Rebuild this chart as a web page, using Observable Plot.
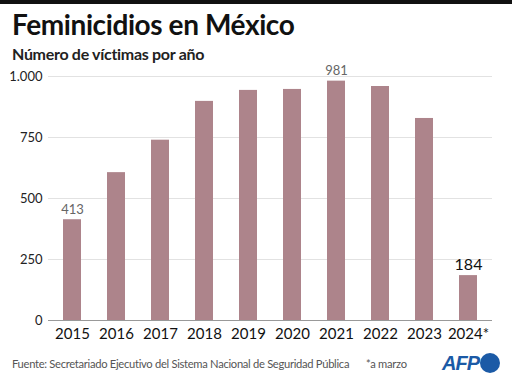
<!DOCTYPE html>
<html><head><meta charset="utf-8">
<script src="https://cdn.jsdelivr.net/npm/d3@7"></script>
<script src="https://cdn.jsdelivr.net/npm/@observablehq/plot@0.6"></script>
<style>
body{margin:0;background:#fff;font-family:Lato,"Noto Sans",sans-serif;width:512px;height:381px;overflow:hidden;position:relative}
#bar{height:4px;background:#111;}
#title{position:absolute;left:12px;top:7px;font-size:28px;font-weight:700;color:#111;letter-spacing:-0.4px}
#sub{position:absolute;left:12px;top:44px;font-size:16px;font-weight:700;color:#222;letter-spacing:-0.3px}
#chart{position:absolute;left:0;top:62px}
#foot{position:absolute;left:12px;top:357px;font-size:11.2px;color:#555;font-family:Lato,sans-serif;letter-spacing:-0.3px;white-space:nowrap}
#note{position:absolute;left:366px;top:357px;font-size:11.2px;color:#555;font-family:Lato,sans-serif;letter-spacing:-0.3px}
#logo{position:absolute;left:440px;top:350px}
</style></head><body>
<div id="bar"></div>
<div id="title">Feminicidios en México</div>
<div id="sub">Número de víctimas por año</div>
<div id="chart"></div>
<div id="foot">Fuente: Secretariado Ejecutivo del Sistema Nacional de Seguridad Pública</div>
<div id="note">*a marzo</div>
<svg id="logo" width="66" height="26"><text x="2" y="20" font-family="Liberation Sans,Arial" font-weight="700" font-style="italic" font-size="20" fill="#1b5aa6" letter-spacing="-1">AFP</text><circle cx="50" cy="13" r="10" fill="#1b5aa6"/></svg>
<script>
const years = ["2015","2016","2017","2018","2019","2020","2021","2022","2023","2024*"];
const victims = [413,606,739,898,943,947,981,959,828,184];
const yTicks = [0,250,500,750,1000];
const labeledGray = ["2015","2021"];
const labeledBlack = ["2024*"];

const data = years.map((y,i)=>({year:y, value:victims[i]}));
const fmt = d3.formatLocale({thousands:".",grouping:[3],decimal:","}).format(",");

const chart = Plot.plot({
  width:512, height:285,
  marginLeft:48, marginRight:20, marginTop:14, marginBottom:27,
  style:{fontFamily:"Lato, 'Noto Sans', sans-serif", background:"transparent"},
  x:{domain:years, paddingInner:0.6, paddingOuter:0.3, label:null},
  y:{domain:[0,1000], ticks:yTicks, label:null},
  marks:[
    Plot.ruleY(yTicks.filter(d=>d>0),{stroke:"#e2e2e2", strokeWidth:1}),
    Plot.barY(data,{x:"year", y:"value", fill:"#ad848b"}),
    Plot.ruleY([0],{stroke:"#999", strokeWidth:1}),
    Plot.axisY({ticks:yTicks, tickFormat:fmt, tickSize:0, tickPadding:6, fontSize:13, label:null, color:"#222"}),
    Plot.axisX({tickSize:0, tickPadding:8, fontSize:15, label:null, color:"#111"}),
    Plot.text(data.filter(d=>labeledGray.includes(d.year)),{x:"year", y:"value", text:d=>fmt(d.value), dy:-10, fontSize:13, fill:"#666"}),
    Plot.text(data.filter(d=>labeledBlack.includes(d.year)),{x:"year", y:"value", text:d=>fmt(d.value), dy:-11, fontSize:16, fill:"#111"})
  ]
});
document.getElementById("chart").appendChild(chart);
</script>
</body></html>
